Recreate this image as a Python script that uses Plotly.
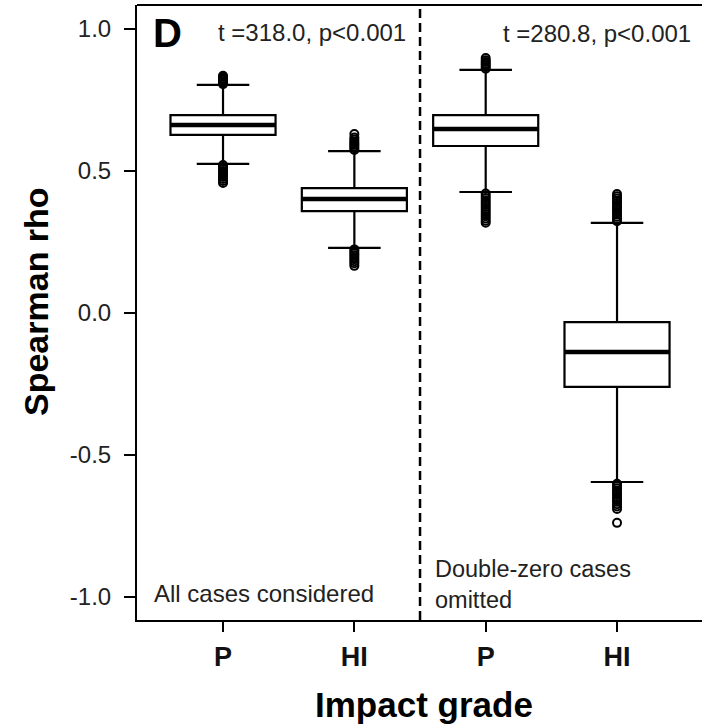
import plotly.graph_objects as go

# ---- data ----
positions = [1, 2, 3, 4]
tick_labels = ["P", "HI", "P", "HI"]
q1 = [0.627, 0.359, 0.588, -0.260]
median = [0.662, 0.401, 0.648, -0.137]
q3 = [0.697, 0.440, 0.697, -0.032]
lower_whisker = [0.525, 0.229, 0.426, -0.595]
upper_whisker = [0.803, 0.570, 0.856, 0.317]

outliers_p1 = [0.806, 0.811, 0.816, 0.821, 0.826, 0.831, 0.835,
               0.521, 0.514, 0.507, 0.500, 0.493, 0.486, 0.479, 0.472, 0.465, 0.458]
outliers_hi1 = [0.574, 0.580, 0.586, 0.592, 0.598, 0.604, 0.611, 0.618, 0.630,
                0.224, 0.217, 0.210, 0.203, 0.196, 0.189, 0.182, 0.175, 0.166]
outliers_p2 = [0.860, 0.866, 0.872, 0.878, 0.884, 0.890, 0.898,
               0.421, 0.413, 0.405, 0.397, 0.389, 0.381, 0.373, 0.365, 0.357,
               0.349, 0.341, 0.333, 0.325, 0.318]
outliers_hi2 = [0.323, 0.331, 0.339, 0.347, 0.355, 0.363, 0.371, 0.379, 0.387,
                0.395, 0.403, 0.411, 0.419,
                -0.601, -0.609, -0.617, -0.625, -0.633, -0.641, -0.649, -0.657,
                -0.665, -0.673, -0.681, -0.690, -0.739]
outliers = [outliers_p1, outliers_hi1, outliers_p2, outliers_hi2]

stat_texts = ["t =318.0, p<0.001", "t =280.8, p<0.001"]
panel_texts = ["All cases considered", "Double-zero cases<br>omitted"]
panel_letter = "D"
x_title = "Impact grade"
y_title = "Spearman rho"

FONT = "Liberation Sans, Arial, sans-serif"
box_w = 0.8

fig = go.Figure()
for i, x in enumerate(positions):
    fig.add_trace(go.Box(
        x=[x], q1=[q1[i]], median=[median[i]], q3=[q3[i]],
        lowerfence=[lower_whisker[i]], upperfence=[upper_whisker[i]],
        width=box_w, whiskerwidth=0.5,
        fillcolor="white", line=dict(color="black", width=2.2),
        boxpoints=False, showlegend=False, hoverinfo="skip",
    ))
    # thick median line
    fig.add_trace(go.Scatter(
        x=[x - box_w / 2, x + box_w / 2], y=[median[i], median[i]],
        mode="lines", line=dict(color="black", width=4.5),
        showlegend=False, hoverinfo="skip",
    ))
    fig.add_trace(go.Scatter(
        x=[x] * len(outliers[i]), y=outliers[i], mode="markers",
        marker=dict(symbol="circle-open", size=8, color="black",
                    line=dict(color="black", width=2)),
        showlegend=False, hoverinfo="skip",
    ))

# frame top line and dashed separator
fig.add_shape(type="line", xref="paper", yref="paper", x0=0, x1=1, y0=1, y1=1,
              line=dict(color="black", width=2))
fig.add_shape(type="line", xref="x", yref="paper", x0=2.5, x1=2.5, y0=0, y1=1,
              line=dict(color="black", width=2.5, dash="9px,5px"))

W, H = 702, 726
L, R, T, B = 137, 0, 5, 106
pw, ph = W - L - R, H - T - B

def px_x(px):
    return (px - L) / pw

def px_y(py):
    return (H - B - py) / ph

fig.add_annotation(text=f"<b>{panel_letter}</b>", xref="paper", yref="paper",
                   x=px_x(151), y=px_y(33), xanchor="left", yanchor="middle",
                   showarrow=False, font=dict(family=FONT, size=40, color="black"))
fig.add_annotation(text=stat_texts[0], xref="paper", yref="paper",
                   x=px_x(408), y=px_y(32), xanchor="right", yanchor="middle",
                   showarrow=False, font=dict(family=FONT, size=24, color="#222"))
fig.add_annotation(text=stat_texts[1], xref="paper", yref="paper",
                   x=px_x(693), y=px_y(33), xanchor="right", yanchor="middle",
                   showarrow=False, font=dict(family=FONT, size=24, color="#222"))
fig.add_annotation(text=panel_texts[0], xref="paper", yref="paper",
                   x=px_x(152), y=px_y(593), xanchor="left", yanchor="middle",
                   showarrow=False, font=dict(family=FONT, size=24, color="#222"))
fig.add_annotation(text=panel_texts[1], xref="paper", yref="paper",
                   x=px_x(433), y=px_y(584), xanchor="left", yanchor="middle",
                   align="left", showarrow=False,
                   font=dict(family=FONT, size=23.5, color="#222"))
fig.add_annotation(text=f"<b>{x_title}</b>", xref="paper", yref="paper",
                   x=px_x(424), y=px_y(704), xanchor="center", yanchor="middle",
                   showarrow=False, font=dict(family=FONT, size=35, color="black"))
fig.add_annotation(text=f"<b>{y_title}</b>", xref="paper", yref="paper",
                   x=px_x(36), y=px_y(302), xanchor="center", yanchor="middle",
                   textangle=-90, showarrow=False,
                   font=dict(family=FONT, size=34, color="black"))

fig.update_layout(
    width=W, height=H,
    margin=dict(l=L, r=R, t=T, b=B),
    paper_bgcolor="white", plot_bgcolor="white",
    font=dict(family=FONT, color="black"),
    showlegend=False,
)
fig.update_xaxes(
    range=[0.345, 4.647], tickvals=positions,
    ticktext=[f"<b>{t}</b>" for t in tick_labels],
    showgrid=False, zeroline=False, showline=True, linecolor="black", linewidth=2,
    ticks="outside", ticklen=10, tickwidth=2, tickcolor="black",
    tickfont=dict(family=FONT, size=27, color="#111"),
    ticklabelstandoff=2,
)
fig.update_yaxes(
    range=[-1.081, 1.0845], tickvals=[-1.0, -0.5, 0.0, 0.5, 1.0],
    ticktext=["-1.0", "-0.5", "0.0", "0.5", "1.0"],
    showgrid=False, zeroline=False, showline=True, linecolor="black", linewidth=2,
    ticks="outside", ticklen=11, tickwidth=2, tickcolor="black",
    tickfont=dict(family=FONT, size=24, color="#222"),
    ticklabelstandoff=8,
)

fig.write_html("out.html", config={"displayModeBar": False},
               post_script="document.body.style.margin='0';document.body.style.overflow='hidden';")
